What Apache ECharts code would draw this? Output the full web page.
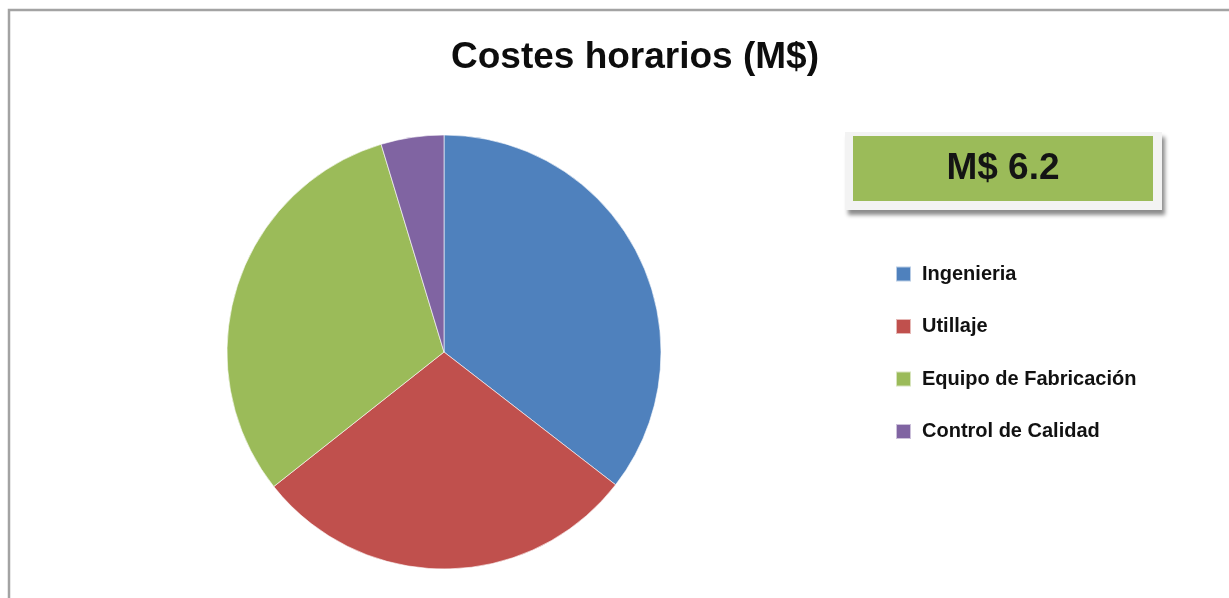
<!DOCTYPE html>
<html>
<head>
<meta charset="utf-8">
<title>Costes horarios (M$)</title>
<script src="https://cdn.jsdelivr.net/npm/echarts@6/dist/echarts.min.js"></script>
<style>
  html, body { margin: 0; padding: 0; background: #ffffff; }
  #chart { width: 1229px; height: 598px; }
</style>
</head>
<body>
<div id="chart"></div>
<script>
// Hourly cost breakdown, in millions of dollars
const categories = ['Ingenieria', 'Utillaje', 'Equipo de Fabricación', 'Control de Calidad'];
const costs = [2.20, 1.79, 1.92, 0.29];
const sliceColors = ['#4F81BD', '#C0504D', '#9BBB59', '#8064A2'];
const chartTitle = 'Costes horarios (M$)';

const total = costs.reduce((a, b) => a + b, 0);
const totalLabel = 'M$ ' + total.toFixed(1);

const FONT = '"Liberation Sans", Arial, sans-serif';

const chart = echarts.init(document.getElementById('chart'), null, { renderer: 'canvas' });

chart.setOption({
  animation: false,
  backgroundColor: '#ffffff',
  color: sliceColors,
  title: {
    text: chartTitle,
    left: 630,
    top: 34,
    textAlign: 'center',
    textStyle: { fontFamily: FONT, fontSize: 37, fontWeight: 'bold', color: '#0d0d0d' }
  },
  legend: {
    orient: 'vertical',
    left: 895,
    top: 264,
    padding: 0,
    icon: 'rect',
    itemWidth: 15,
    itemHeight: 15,
    itemGap: 32.5,
    selectedMode: false,
    data: categories,
    textStyle: {
      fontFamily: FONT, fontSize: 20, fontWeight: 'bold', color: '#111111',
      lineHeight: 20, padding: [0, 0, 0, 6]
    }
  },
  graphic: [
    // outer chart frame (top and left edges)
    {
      type: 'polyline',
      silent: true,
      shape: { points: [[9, 598], [9, 10], [1229, 10]] },
      style: { stroke: '#a3a3a3', lineWidth: 2.5, fill: null }
    },
    // total-cost badge
    {
      type: 'rect',
      silent: true,
      shape: { x: 845, y: 132, width: 317, height: 78 },
      style: {
        fill: '#f3f3f3',
        shadowColor: 'rgba(0,0,0,0.45)', shadowBlur: 4, shadowOffsetX: 3, shadowOffsetY: 5
      }
    },
    {
      type: 'rect',
      silent: true,
      shape: { x: 853, y: 136, width: 300, height: 65 },
      style: { fill: '#9BBB59' }
    },
    {
      type: 'text',
      silent: true,
      x: 1003,
      y: 169,
      style: {
        text: totalLabel,
        fontFamily: FONT, fontSize: 37, fontWeight: 'bold', fill: '#141414',
        align: 'center', verticalAlign: 'middle'
      }
    }
  ],
  series: [{
    type: 'pie',
    center: [444, 352],
    radius: 217,
    startAngle: 90,
    clockwise: true,
    avoidLabelOverlap: false,
    label: { show: false },
    labelLine: { show: false },
    emphasis: { disabled: true },
    itemStyle: { borderColor: 'rgba(255,255,255,0.6)', borderWidth: 1 },
    data: categories.map((name, i) => ({ name, value: costs[i] }))
  }]
});
</script>
</body>
</html>
